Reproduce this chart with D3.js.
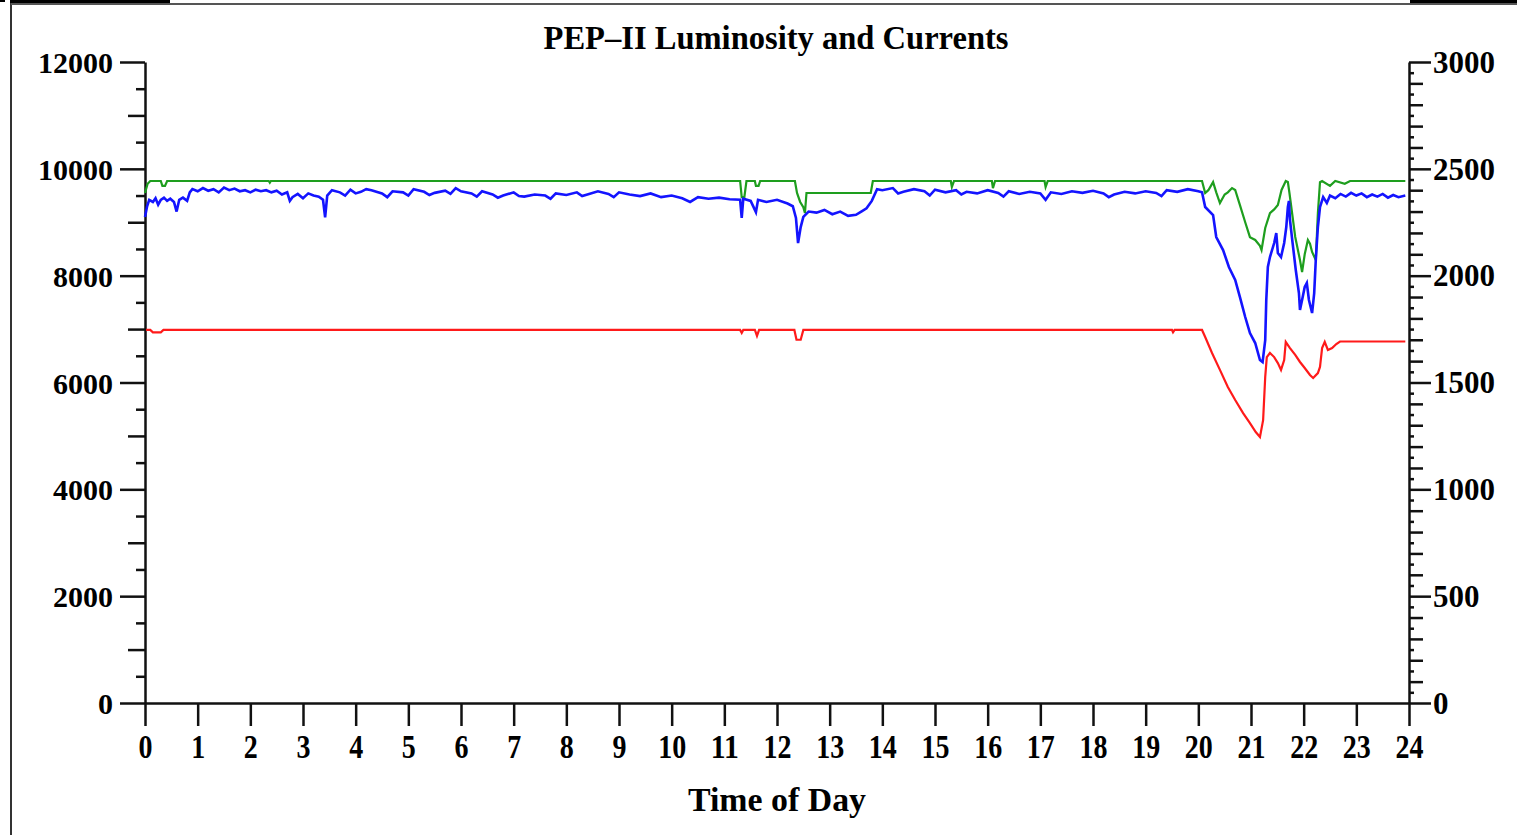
<!DOCTYPE html>
<html>
<head>
<meta charset="utf-8">
<script src="https://cdn.jsdelivr.net/npm/d3@7"></script>
<style>
body { margin: 0; background: #fff; }
text { font-family: "Liberation Serif", "Times New Roman", serif; font-weight: bold; fill: #000; }
.tick line, .domain { stroke: #111; stroke-width: 2.5; }
</style>
</head>
<body>
<svg id="chart" width="1517" height="835"></svg>
<script>
/*=====================================================================
 data (hour of day, value)
======================================================================*/
var hourTicks = d3.range(0, 25);
var titleText = "PEP\u2013II Luminosity and Currents";
var xLabel = "Time of Day";

// luminosity, left axis
var lumiHours = [0, 0.04, 0.08, 0.15, 0.2, 0.25, 0.3, 0.36, 0.42, 0.48, 0.55, 0.6, 0.65, 0.72, 0.8, 0.85, 0.9, 1.0,
    1.1, 1.2, 1.3, 1.4, 1.5, 1.6, 1.7, 1.8, 1.9, 2.0, 2.1, 2.2, 2.3, 2.4, 2.5,
    2.6, 2.7, 2.75, 2.8, 2.9, 3.0, 3.1, 3.2, 3.3, 3.38, 3.42, 3.46, 3.55,
    3.7, 3.8, 3.9, 4.0, 4.1, 4.2, 4.3, 4.5, 4.6, 4.7, 4.9, 5.0, 5.1, 5.3, 5.4, 5.5, 5.7, 5.8, 5.9, 6.0,
    6.2, 6.3, 6.4, 6.6, 6.7, 6.8, 7.0, 7.1, 7.2, 7.4, 7.6, 7.7, 7.8, 8.0, 8.2, 8.3, 8.4, 8.6, 8.8, 8.9, 9.0,
    9.2, 9.4, 9.6, 9.8, 10.0, 10.2, 10.35, 10.5, 10.7, 10.9, 11.1, 11.3, 11.33, 11.36, 11.5, 11.6, 11.64, 11.8, 12.0, 12.2, 12.3,
    12.36, 12.4, 12.45, 12.5, 12.6, 12.75, 12.9, 13.05, 13.2, 13.35, 13.5, 13.6, 13.7, 13.8, 13.9, 14.0,
    14.2, 14.3, 14.4, 14.6, 14.8, 14.9, 15.0, 15.2, 15.4, 15.5, 15.6, 15.8, 16.0, 16.2, 16.3, 16.4, 16.6, 16.8, 17.0, 17.1, 17.2, 17.4, 17.6, 17.8,
    18.0, 18.2, 18.3, 18.4, 18.6, 18.8, 19.0, 19.2, 19.3, 19.4, 19.6, 19.8, 20.0, 20.07,
    20.13, 20.28, 20.34, 20.47, 20.58, 20.7, 20.79, 20.89, 20.98, 21.08, 21.17, 21.22, 21.27, 21.29, 21.32, 21.36, 21.44, 21.48,
    21.51, 21.57, 21.63, 21.67, 21.7, 21.72, 21.74, 21.79, 21.85, 21.91, 21.93, 21.97, 22.02, 22.06, 22.1, 22.16, 22.2, 22.23,
    22.27, 22.31, 22.37, 22.44,
    22.5, 22.6, 22.7, 22.8, 22.9, 23.0, 23.1, 23.2, 23.3, 23.4, 23.5, 23.6, 23.7, 23.8, 23.93];
var lumiValues = [9100, 9300, 9420, 9380, 9450, 9330, 9420, 9460, 9400, 9440, 9380, 9200, 9420, 9460, 9400, 9560, 9620, 9580,
    9640, 9590, 9620, 9560, 9650, 9600, 9630, 9580, 9600, 9560, 9610, 9580, 9600, 9560, 9590,
    9520, 9560, 9400, 9470, 9530, 9450, 9540, 9500, 9480, 9420, 9090, 9500, 9600,
    9560, 9500, 9610, 9540, 9570, 9620, 9600, 9540, 9470, 9580, 9560, 9500, 9620, 9570, 9510, 9550, 9590, 9530, 9640, 9580,
    9540, 9480, 9580, 9520, 9460, 9500, 9560, 9490, 9480, 9520, 9500, 9440, 9540, 9510, 9560, 9490, 9520, 9580, 9530, 9470, 9560,
    9520, 9490, 9540, 9470, 9500, 9450, 9380, 9470, 9440, 9460, 9430, 9420, 9080, 9440, 9400, 9190, 9420, 9380, 9420, 9350, 9300,
    9080, 8610, 8910, 9100, 9200, 9180, 9230, 9150, 9200, 9120, 9140, 9200, 9260, 9400, 9620, 9600,
    9640, 9540, 9570, 9620, 9580, 9500, 9610, 9560, 9600, 9520, 9570, 9540, 9600, 9550, 9480, 9580, 9530, 9570, 9540, 9420, 9560, 9530, 9580, 9550,
    9590, 9540, 9470, 9520, 9570, 9540, 9580, 9550, 9490, 9600, 9570, 9620, 9580, 9560,
    9285, 9135, 8723, 8480, 8162, 7919, 7600, 7226, 6926, 6739, 6421, 6383, 6795, 7544, 8162, 8349, 8611, 8798,
    8424, 8349, 8611, 8911, 9285, 9400, 9042, 8611, 8106, 7675, 7357, 7544, 7787, 7862, 7544, 7300, 7675, 8293,
    8911, 9285, 9472, 9360,
    9500, 9450, 9530, 9480, 9550, 9500, 9540, 9470, 9520, 9480, 9530, 9460, 9510, 9470, 9500];

// LER current, right axis
var lerHours = [0, 0.05, 0.1, 0.3, 0.33, 0.38, 0.42, 2.35, 2.37, 2.39,
    11.3, 11.33, 11.38, 11.42, 11.58, 11.6, 11.65, 11.68,
    12.34, 12.38, 12.44, 12.5, 12.53, 12.56, 13.78, 13.82,
    15.3, 15.32, 15.36, 16.08, 16.1, 16.14, 17.08, 17.1, 17.14,
    20.07, 20.13, 20.19, 20.28, 20.34, 20.41, 20.5, 20.56, 20.64, 20.7, 20.79, 20.89, 20.98, 21.08, 21.17, 21.2,
    21.27, 21.36, 21.44, 21.51, 21.58, 21.66, 21.7, 21.73, 21.84, 21.93, 21.97, 22.02, 22.08, 22.12, 22.16, 22.23,
    22.27, 22.31, 22.35, 22.5, 22.6, 22.78, 22.88, 23.93];
var lerValues = [2387, 2430, 2443, 2443, 2420, 2420, 2443, 2443, 2435, 2443,
    2443, 2368, 2368, 2443, 2443, 2420, 2420, 2443,
    2443, 2387, 2345, 2320, 2293, 2387, 2387, 2443,
    2443, 2415, 2443, 2443, 2410, 2443, 2443, 2415, 2443,
    2443, 2387, 2400, 2438, 2390, 2340, 2380, 2390, 2410, 2401, 2330, 2250, 2180, 2167, 2140, 2120,
    2223, 2293, 2310, 2331, 2401, 2443, 2438, 2387, 2181, 2073, 2017, 2100, 2167, 2150, 2111, 2073,
    2293, 2438, 2443, 2420, 2443, 2430, 2443, 2443];

// HER current, right axis
var herHours = [0.02, 0.1, 0.15, 0.3, 0.35, 11.3, 11.33, 11.36, 11.58, 11.62, 11.66, 12.33, 12.37, 12.45, 12.5,
    19.5, 19.52, 19.55, 20.07, 20.13, 20.26, 20.41, 20.56, 20.7, 20.85, 20.98, 21.09, 21.17, 21.23, 21.27,
    21.3, 21.36, 21.44, 21.51, 21.57, 21.63, 21.66, 21.74, 21.84, 21.93, 22.02, 22.12, 22.18, 22.27, 22.31,
    22.35, 22.4, 22.46, 22.54, 22.62, 22.69, 23.93];
var herValues = [1746, 1746, 1735, 1735, 1746, 1746, 1732, 1746, 1746, 1718, 1746, 1746, 1700, 1700, 1746,
    1746, 1735, 1746, 1746, 1713, 1638, 1559, 1479, 1418, 1357, 1310, 1268, 1245, 1324, 1526,
    1619, 1638, 1619, 1591, 1559, 1605, 1690, 1661, 1629, 1596, 1568, 1535, 1521, 1544, 1573,
    1661, 1690, 1652, 1661, 1680, 1692, 1692];

/*=====================================================================
 chart setup
======================================================================*/
var svg = d3.select("#chart");

var x = d3.scaleLinear().domain([0, 24]).range([145, 1409]);
var yLeft = d3.scaleLinear().domain([0, 12000]).range([703, 62]);
var yRight = d3.scaleLinear().domain([0, 3000]).range([703, 62]);

// page frame with clipped header text
svg.append("line").attr("x1", 11).attr("x2", 11).attr("y1", 3).attr("y2", 835)
    .attr("stroke", "#333").attr("stroke-width", 2);
svg.append("line").attr("x1", 11).attr("x2", 1517).attr("y1", 4).attr("y2", 4)
    .attr("stroke", "#555").attr("stroke-width", 2);
svg.append("rect").attr("x", 10).attr("y", 0).attr("width", 160).attr("height", 3).attr("fill", "#000");
svg.append("rect").attr("x", 1410).attr("y", 0).attr("width", 107).attr("height", 3).attr("fill", "#000");
svg.append("rect").attr("x", 0).attr("y", 0).attr("width", 5).attr("height", 2).attr("fill", "#000");

function squeeze(sel, perChar) {
    sel.attr("textLength", function () { return this.textContent.length * perChar; })
        .attr("lengthAdjust", "spacingAndGlyphs");
}

/*=====================================================================
 axes
======================================================================*/
var leftAxis = svg.append("g")
    .attr("transform", "translate(145,0)")
    .call(d3.axisLeft(yLeft)
        .tickValues(d3.range(0, 12001, 500))
        .tickFormat(function (d) { return d % 2000 === 0 ? d : ""; })
        .tickSizeInner(25).tickSizeOuter(0).tickPadding(7));
leftAxis.selectAll(".tick line").attr("x2", function (d) {
    return d % 2000 === 0 ? -25 : (d % 1000 === 0 ? -17 : -9);
});
leftAxis.selectAll("text").style("font-size", "30px").attr("dy", "0.35em").call(squeeze, 15);

var rightAxis = svg.append("g")
    .attr("transform", "translate(1409,0)")
    .call(d3.axisRight(yRight)
        .tickValues(d3.range(0, 3001, 50))
        .tickFormat(function (d) { return d % 500 === 0 ? d : ""; })
        .tickSizeInner(22).tickSizeOuter(0).tickPadding(2));
rightAxis.selectAll(".tick line").attr("x2", function (d) {
    return d % 500 === 0 ? 22 : (d % 100 === 0 ? 14 : 5);
});
rightAxis.selectAll("text").style("font-size", "31px").attr("dy", "0.33em").call(squeeze, 15.5);

var bottomAxis = svg.append("g")
    .attr("transform", "translate(0,703)")
    .call(d3.axisBottom(x)
        .tickValues(hourTicks)
        .tickFormat(d3.format("d"))
        .tickSizeInner(23).tickSizeOuter(0));
bottomAxis.selectAll("text").style("font-size", "34px").attr("y", 55).attr("dy", 0).call(squeeze, 14);

/*=====================================================================
 titles
======================================================================*/
svg.append("text")
    .attr("x", 776).attr("y", 49)
    .attr("text-anchor", "middle")
    .style("font-size", "33px")
    .attr("textLength", 465).attr("lengthAdjust", "spacingAndGlyphs")
    .text(titleText);

svg.append("text")
    .attr("x", 777).attr("y", 811)
    .attr("text-anchor", "middle")
    .style("font-size", "34px")
    .attr("textLength", 178).attr("lengthAdjust", "spacingAndGlyphs")
    .text(xLabel);

/*=====================================================================
 series
======================================================================*/
function drawSeries(hours, values, yScale, colour, width) {
    var line = d3.line()
        .x(function (d, i) { return x(hours[i]); })
        .y(function (d) { return yScale(d); });
    svg.append("path")
        .datum(values)
        .attr("fill", "none")
        .attr("stroke", colour)
        .attr("stroke-width", width)
        .attr("d", line);
}

drawSeries(herHours, herValues, yRight, "#ff1a1a", 2.2);
drawSeries(lerHours, lerValues, yRight, "#1e9e1e", 2.2);
drawSeries(lumiHours, lumiValues, yLeft, "#1414ff", 2.6);
</script>
</body>
</html>
